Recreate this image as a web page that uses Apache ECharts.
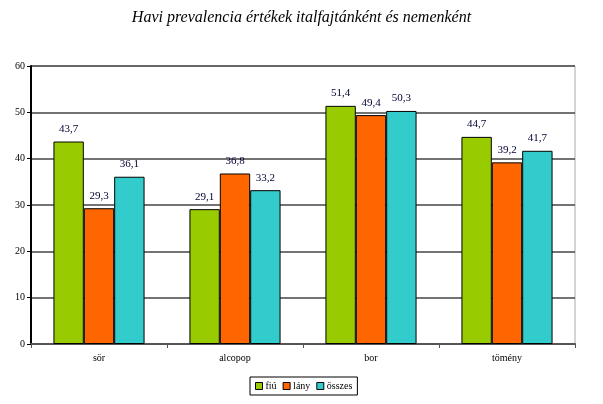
<!DOCTYPE html>
<html><head><meta charset="utf-8">
<script src="https://cdn.jsdelivr.net/npm/echarts@6/dist/echarts.min.js"></script>
<style>html,body{margin:0;padding:0;background:#fff}#c{width:603px;height:404px}</style>
</head><body><div id="c"></div>
<script>
const categories = ['sör', 'alcopop', 'bor', 'tömény'];
const seriesNames = ['fiú', 'lány', 'összes'];
const fiu = [43.7, 29.1, 51.4, 44.7];
const lany = [29.3, 36.8, 49.4, 39.2];
const osszes = [36.1, 33.2, 50.3, 41.7];
const colors = ['#99CC00', '#FF6600', '#33CCCC'];
const serif = '"Liberation Serif", "DejaVu Serif", serif';

const chart = echarts.init(document.getElementById('c'));
const mk = (name, data, color) => ({
  name, type: 'bar', data,
  barGap: '0%', barCategoryGap: '33%',
  itemStyle: { color, borderColor: '#000', borderWidth: 1 },
  label: {
    show: true, position: 'top', distance: 7,
    fontFamily: serif, fontSize: 11, color: '#000033',
    formatter: p => p.value.toFixed(1).replace('.', ',')
  }
});
chart.setOption({
  animation: false,
  title: {
    text: 'Havi prevalencia értékek italfajtánként és nemenként',
    left: 'center', top: 5,
    textStyle: { fontFamily: serif, fontStyle: 'italic', fontWeight: 'normal', fontSize: 16, color: '#000' }
  },
  grid: { left: 31, top: 66, width: 544, height: 278, show: true, borderColor: '#aaa', borderWidth: 1, backgroundColor: 'transparent' },
  legend: {
    data: seriesNames, left: 250, top: 377,
    borderColor: '#000', borderWidth: 1, padding: [4, 5],
    itemWidth: 7, itemHeight: 7, itemGap: 6,
    icon: 'rect',
    itemStyle: { borderColor: '#000', borderWidth: 1 },
    textStyle: { fontFamily: serif, fontSize: 10, color: '#000', padding: [0, 0, 0, -2] }
  },
  xAxis: {
    type: 'category', data: categories,
    axisLine: { lineStyle: { color: '#555', width: 2 } },
    axisTick: { show: true, length: 4, lineStyle: { color: '#555' } },
    axisLabel: { fontFamily: serif, fontSize: 10, color: '#000', margin: 9 }
  },
  yAxis: {
    type: 'value', min: 0, max: 60, interval: 10,
    axisLine: { show: true, lineStyle: { color: '#000', width: 2 } },
    axisTick: { show: true, length: 4, lineStyle: { color: '#000' } },
    axisLabel: { fontFamily: serif, fontSize: 10, color: '#000', margin: 6 },
    splitLine: { lineStyle: { color: '#444', width: 1.5 } }
  },
  series: [mk(seriesNames[0], fiu, colors[0]), mk(seriesNames[1], lany, colors[1]), mk(seriesNames[2], osszes, colors[2])]
});
</script></body></html>
